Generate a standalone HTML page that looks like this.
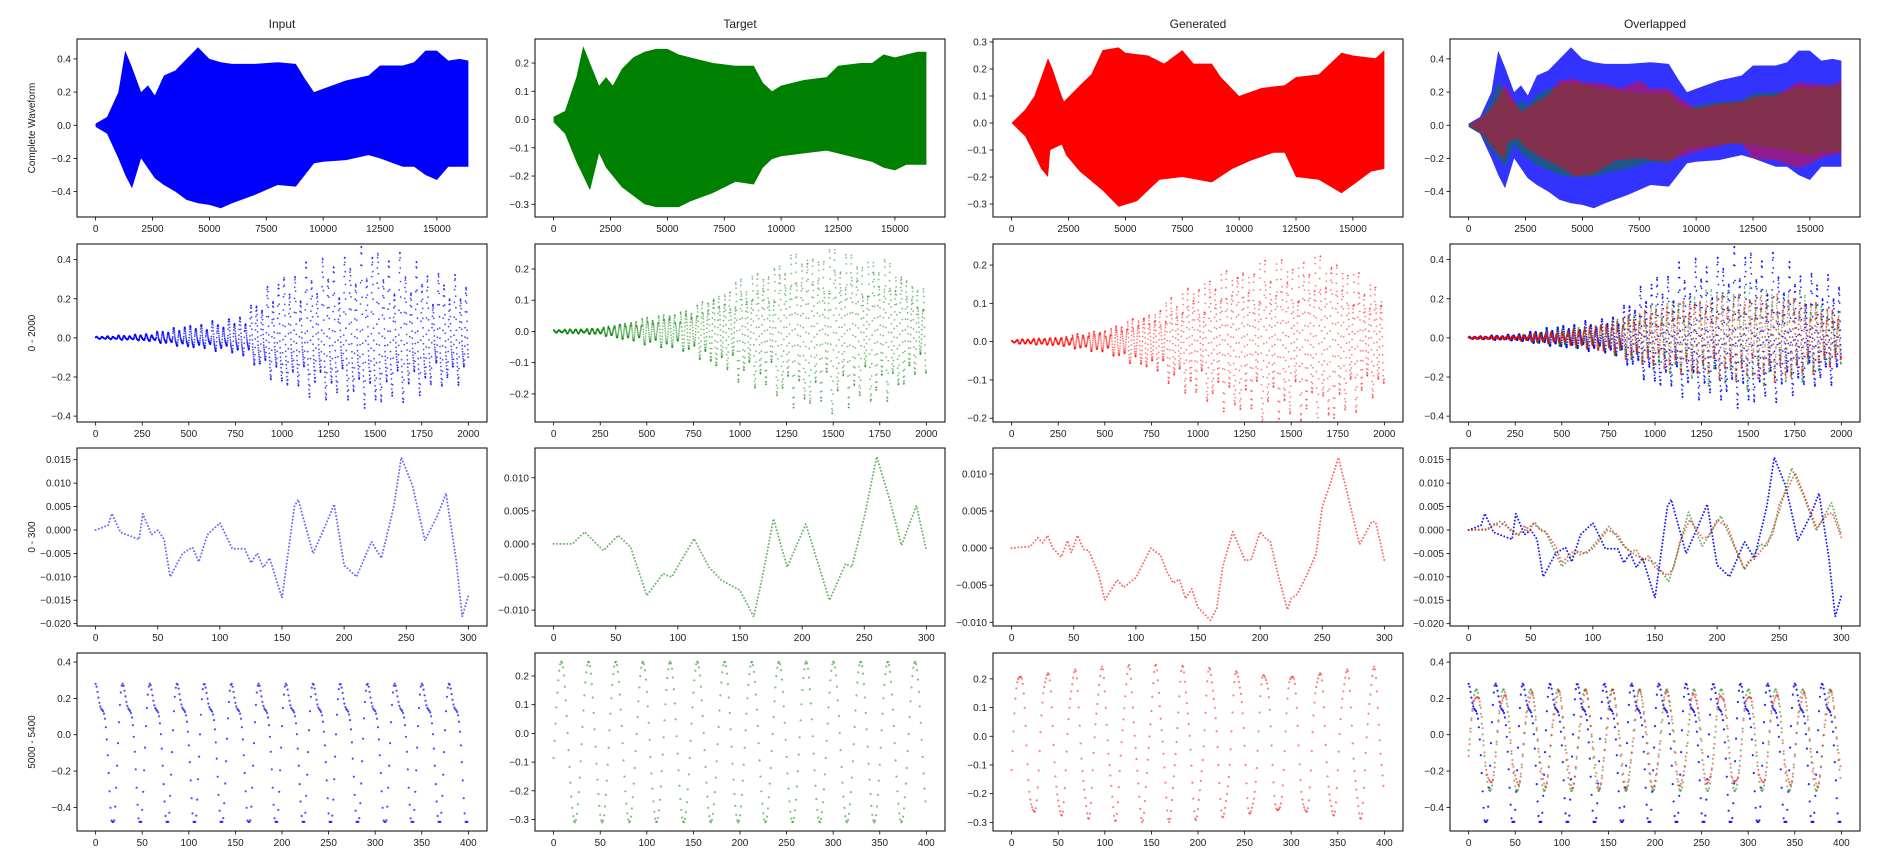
<!DOCTYPE html>
<html><head><meta charset="utf-8">
<style>
body{margin:0;background:#fff;}
svg{display:block;font-family:"Liberation Sans","DejaVu Sans",sans-serif;}
</style></head>
<body>
<svg id="fig" width="1891" height="864" viewBox="0 0 1891 864" xmlns="http://www.w3.org/2000/svg"></svg>
<script>
// ---------- DATA ----------
const colTitles = ["Input","Target","Generated","Overlapped"];
const rowLabels = ["Complete Waveform","0 - 2000","0 - 300","5000 - 5400"];
const colors = ["#0000ff","#008000","#ff0000"];

// Row 1: amplitude envelopes of the complete waveform
const envInX = [0,500,1000,1300,1600,2000,2300,2600,3000,3500,4000,4500,5000,5500,6000,7000,8000,8800,9200,9600,10000,11000,12000,12500,13500,14000,14500,15000,15500,16000,16384];
const envInUp = [0.01,0.05,0.2,0.45,0.35,0.2,0.24,0.18,0.3,0.33,0.4,0.47,0.4,0.38,0.37,0.37,0.38,0.37,0.28,0.2,0.22,0.27,0.3,0.36,0.36,0.38,0.45,0.45,0.39,0.4,0.39];
const envInLo = [-0.01,-0.05,-0.2,-0.3,-0.38,-0.2,-0.26,-0.32,-0.36,-0.4,-0.45,-0.47,-0.48,-0.5,-0.47,-0.42,-0.36,-0.37,-0.3,-0.23,-0.22,-0.21,-0.18,-0.2,-0.25,-0.25,-0.3,-0.33,-0.25,-0.25,-0.25];
const envTgUp = [0.01,0.03,0.15,0.26,0.2,0.12,0.15,0.12,0.18,0.22,0.24,0.25,0.25,0.23,0.22,0.2,0.19,0.19,0.13,0.1,0.12,0.14,0.15,0.19,0.2,0.2,0.23,0.22,0.23,0.24,0.24];
const envTgLo = [-0.01,-0.05,-0.15,-0.2,-0.25,-0.12,-0.17,-0.2,-0.24,-0.27,-0.3,-0.31,-0.31,-0.31,-0.29,-0.26,-0.22,-0.23,-0.17,-0.14,-0.13,-0.12,-0.11,-0.12,-0.14,-0.15,-0.17,-0.18,-0.16,-0.16,-0.16];
const envGnUpX = [0,600,1000,1300,1600,1800,2200,2300,3000,3500,4000,4700,5000,6000,6700,7500,8000,8800,9200,10000,11000,12000,12500,13500,14500,15000,16000,16384];
const envGnUp = [0,0.05,0.1,0.17,0.24,0.2,0.1,0.08,0.14,0.18,0.27,0.28,0.26,0.25,0.22,0.27,0.22,0.22,0.17,0.1,0.13,0.14,0.17,0.18,0.26,0.25,0.24,0.27];
const envGnLoX = [0,600,900,1300,1600,1700,2200,2400,3000,4000,4700,5500,6500,7500,8800,9700,10500,11500,12000,12500,13500,14500,15000,15800,16384];
const envGnLo = [0,-0.05,-0.1,-0.17,-0.2,-0.1,-0.08,-0.12,-0.18,-0.25,-0.31,-0.29,-0.21,-0.2,-0.22,-0.17,-0.14,-0.11,-0.11,-0.2,-0.21,-0.26,-0.23,-0.18,-0.17];

// Row 2: amplitude envelopes for samples 0-2000 (every 250 samples)
const seg2X = [0,250,500,750,1000,1250,1500,1750,2000];
const seg2AmpIn = [0.005,0.015,0.05,0.08,0.25,0.33,0.36,0.3,0.22];
const seg2AmpTg = [0.005,0.01,0.04,0.07,0.15,0.22,0.24,0.22,0.12];
const seg2AmpGn = [0.005,0.01,0.03,0.07,0.15,0.18,0.21,0.2,0.12];
const seg2CycleScale = [1.0,0.7,0.95,0.55,1.1,0.8,0.6,1.05,0.75,0.9,0.5,1.0,0.85,0.65,1.1,0.7,0.95];
const seg2Period = 29.6;

// Row 3: samples 0-300 key points
const r3InX = [0,10,13,20,30,35,38,45,50,55,60,70,78,83,90,100,110,120,125,130,135,140,150,160,163,175,185,192,200,210,222,230,240,246,255,265,275,282,290,295,300];
const r3InY = [0,0.001,0.0035,-0.0005,-0.0015,-0.002,0.0035,-0.001,0,-0.002,-0.01,-0.005,-0.0037,-0.0068,-0.001,0.0015,-0.004,-0.004,-0.007,-0.005,-0.008,-0.006,-0.0145,0.005,0.0065,-0.005,0.001,0.0055,-0.0075,-0.01,-0.0025,-0.006,0.005,0.0155,0.0095,-0.0022,0.003,0.0078,-0.006,-0.0185,-0.014];
const r3TgX = [0,15,25,40,52,62,75,88,95,113,125,135,150,161,168,177,188,203,222,235,240,250,260,270,280,292,300];
const r3TgY = [0,0,0.0018,-0.001,0.0013,-0.0005,-0.0078,-0.0045,-0.005,0.0008,-0.0035,-0.0055,-0.007,-0.011,-0.005,0.0038,-0.0035,0.003,-0.0085,-0.003,-0.0035,0.004,0.0132,0.007,-0.0002,0.0058,-0.001];
const r3GnX = [0,15,21,25,29,33,40,45,48,53,58,62,70,75,85,90,100,112,120,125,130,135,140,145,150,160,165,170,178,188,193,200,205,208,215,222,225,230,238,245,250,255,263,270,280,290,293,300];
const r3GnY = [0,0.0002,0.0014,0.0007,0.0017,0,-0.0012,0.001,-0.0006,0.0017,-0.0002,-0.0003,-0.0035,-0.007,-0.0043,-0.0053,-0.004,0,-0.001,-0.0032,-0.0047,-0.0042,-0.0068,-0.0055,-0.008,-0.0097,-0.0082,-0.0025,0.0022,-0.0017,-0.0015,0.0022,0.0012,0.001,-0.004,-0.0083,-0.0068,-0.0062,-0.0035,-0.0008,0.0055,0.008,0.0122,0.0075,0.0005,0.0036,0.0035,-0.0017];

// Row 4: samples 5000-5400 oscillation ranges [min, max]
const r4Range = {input:[-0.48,0.4], target:[-0.31,0.25], generated:[-0.3,0.25]};
const r4Period = 29.2;

// Axes ranges and ticks
const xRanges = [[-819,17203],[-100,2100],[-15,315],[-20,420]];
const xTicks = [[0,2500,5000,7500,10000,12500,15000],[0,250,500,750,1000,1250,1500,1750,2000],[0,50,100,150,200,250,300],[0,50,100,150,200,250,300,350,400]];
const yRanges = [
 [[-0.553,0.52],[-0.345,0.285],[-0.348,0.311],[-0.553,0.52]],
 [[-0.43,0.48],[-0.29,0.28],[-0.21,0.255],[-0.43,0.48]],
 [[-0.0205,0.0175],[-0.0124,0.0145],[-0.0105,0.0135],[-0.0205,0.0175]],
 [[-0.53,0.45],[-0.34,0.28],[-0.33,0.29],[-0.53,0.45]]];
const yTicks = [
 [[-0.4,-0.2,0,0.2,0.4],[-0.3,-0.2,-0.1,0,0.1,0.2],[-0.3,-0.2,-0.1,0,0.1,0.2,0.3],[-0.4,-0.2,0,0.2,0.4]],
 [[-0.4,-0.2,0,0.2,0.4],[-0.2,-0.1,0,0.1,0.2],[-0.2,-0.1,0,0.1,0.2],[-0.4,-0.2,0,0.2,0.4]],
 [[-0.02,-0.015,-0.01,-0.005,0,0.005,0.01,0.015],[-0.01,-0.005,0,0.005,0.01],[-0.01,-0.005,0,0.005,0.01],[-0.02,-0.015,-0.01,-0.005,0,0.005,0.01,0.015]],
 [[-0.4,-0.2,0,0.2,0.4],[-0.3,-0.2,-0.1,0,0.1,0.2],[-0.3,-0.2,-0.1,0,0.1,0.2],[-0.4,-0.2,0,0.2,0.4]]];
const yDecimals = [1,1,3,1];

// ---------- DRAW ----------
const NS="http://www.w3.org/2000/svg";
const svg=document.getElementById('fig');
const colLeft=[77,535,993,1450], rowTop=[39,244,448,653], W=410, H=178;
function el(tag,attrs,parent){const e=document.createElementNS(NS,tag);for(const k in attrs)e.setAttribute(k,attrs[k]);(parent||svg).appendChild(e);return e;}
function fmt(v,d){let s=Math.abs(v)<1e-12?(0).toFixed(d):v.toFixed(d);return s.replace('-','\u2212');}
function lerp(xs,ys,x){for(let i=1;i<xs.length;i++){if(x<=xs[i]){const t=(x-xs[i-1])/(xs[i]-xs[i-1]);return ys[i-1]+t*(ys[i]-ys[i-1]);}}return ys[ys.length-1];}

for(let r=0;r<4;r++)for(let c=0;c<4;c++){
  const L=colLeft[c],T=rowTop[r];
  const [x0,x1]=xRanges[r],[y0,y1]=yRanges[r][c];
  const sx=v=>L+(v-x0)/(x1-x0)*W, sy=v=>T+H-(v-y0)/(y1-y0)*H;
  const g=el('g',{}); 
  
  const clipId='clip'+r+c;
  const cp=el('clipPath',{id:clipId},g); el('rect',{x:L,y:T,width:W,height:H},cp);
  const plot=el('g',{'clip-path':'url(#'+clipId+')'},g);
   
  const series = c<3?[c]:[0,1,2];
  series.forEach(s=>{
    const col=colors[s]; const over=c===3;
    if(r===0){
      let ux,uy,lx,ly;
      if(s===0){ux=envInX;uy=envInUp;lx=envInX;ly=envInLo;}
      else if(s===1){ux=envInX;uy=envTgUp;lx=envInX;ly=envTgLo;}
      else{ux=envGnUpX;uy=envGnUp;lx=envGnLoX;ly=envGnLo;}
      let d='M'+ux.map((x,i)=>sx(x).toFixed(1)+','+sy(uy[i]).toFixed(1)).join('L');
      for(let i=lx.length-1;i>=0;i--)d+='L'+sx(lx[i]).toFixed(1)+','+sy(ly[i]).toFixed(1);
      const p=el('path',{d:d+'Z',fill:col,'fill-opacity':over?(s===0?0.8:0.45):1},plot);
      
      
    } else if(r===2){
      const xs=[r3InX,r3TgX,r3GnX][s], ys=[r3InY,r3TgY,r3GnY][s];
      const d='M'+xs.map((x,i)=>sx(x).toFixed(1)+','+sy(ys[i]).toFixed(1)).join('L');
      const p=el('path',{d:d,fill:'none',stroke:col,'stroke-width':2,'stroke-linecap':'round','stroke-dasharray':'0 3.4','stroke-opacity':over&&s===0?0.9:0.6},plot);
      
      
    } else {
      const gg=el('g',{fill:col,'fill-opacity':s===0?(over?0.85:0.7):0.5},plot);
      
      
      if(r===1){
        const amp=[seg2AmpIn,seg2AmpTg,seg2AmpGn][s]; const ph=[0.4,1.6,1.8][s];
        for(let i=0;i<2000;i++){
          const cyc=Math.floor(i/seg2Period);
          const k=seg2CycleScale[(cyc+s*5)%seg2CycleScale.length];
          const a=lerp(seg2X,amp,i)*k;
          const v=a*Math.sin(2*Math.PI*i/seg2Period+ph)+(s===0?0.25*a*Math.sin(4*Math.PI*i/seg2Period):0);
          el('circle',{cx:sx(i).toFixed(1),cy:sy(v).toFixed(1),r:0.9},gg);
        }
      } else {
        const rg=[r4Range.input,r4Range.target,r4Range.generated][s];
        const mid=(rg[0]+rg[1])/2, a=(rg[1]-rg[0])/2; const ph=[0.9,-0.2,-0.3][s];
        for(let i=0;i<400;i++){
          const th=2*Math.PI*i/r4Period+ph;
          let v;
          if(s===0) v=mid+a*(0.8*Math.sin(th)+0.3*Math.sin(2*th+1.0));
          else if(s===1) v=mid+a*Math.sin(th);
          else v=mid+a*(0.92*Math.sin(th)+0.08*Math.sin(3.1*th));
          v=Math.max(rg[0],Math.min(rg[1],v));
          el('circle',{cx:sx(i).toFixed(1),cy:sy(v).toFixed(1),r:1.1},gg);
        }
      }
    }
  });
  const frame=el('rect',{x:L,y:T,width:W,height:H,fill:'none',stroke:'#000','stroke-width':1},g);
   
  xTicks[r].forEach(t=>{const x=sx(t);
    el('line',{x1:x,x2:x,y1:T+H,y2:T+H+3.5,stroke:'#000','stroke-width':0.8},g);
    const tx=el('text',{x:x,y:T+H+15,'font-size':10,'text-anchor':'middle',fill:'#222'},g);tx.textContent=t;
     });
  yTicks[r][c].forEach(t=>{const y=sy(t);
    el('line',{x1:L-3.5,x2:L,y1:y,y2:y,stroke:'#000','stroke-width':0.8},g);
    const tx=el('text',{x:L-6,y:y+3.5,'font-size':10,'text-anchor':'end',fill:'#222'},g);tx.textContent=fmt(t,yDecimals[r]);
     });
  if(r===0){const t=el('text',{x:L+W/2,y:T-11,'font-size':12,'text-anchor':'middle',fill:'#222'},g);t.textContent=colTitles[c];
     }
  if(c===0){const yc=T+H/2;const t=el('text',{x:0,y:0,'font-size':10,'text-anchor':'middle',fill:'#222',transform:'translate(35,'+yc+') rotate(-90)'},g);t.textContent=rowLabels[r];
     }
}
</script>
</body></html>
